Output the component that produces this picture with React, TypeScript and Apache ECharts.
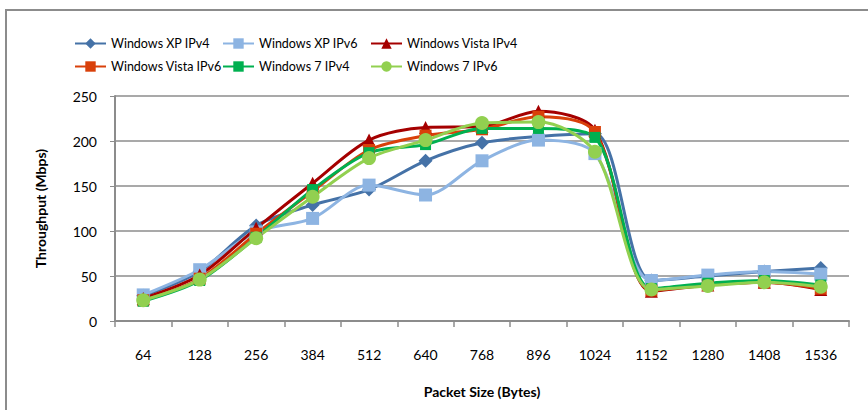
import React, { useEffect, useRef } from "react";
import * as echarts from "echarts";

const categories = ["64", "128", "256", "384", "512", "640", "768", "896", "1024", "1152", "1280", "1408", "1536"];
const xpIPv4 = [28, 55, 106, 129, 146, 178, 198, 205, 208, 45, 50, 55, 59];
const xpIPv6 = [29, 57, 99, 114, 151, 140, 178, 201, 186, 45, 51, 55, 52];
const vistaIPv4 = [25, 51, 103, 153, 201, 215, 216, 233, 212, 33, 40, 43, 35];
const vistaIPv6 = [23, 47, 97, 144, 190, 206, 213, 227, 210, 34, 40, 43, 36];
const win7IPv4 = [22, 45, 93, 146, 187, 196, 214, 214, 204, 36, 42, 45, 40];
const win7IPv6 = [23, 46, 92, 138, 181, 201, 220, 221, 188, 35, 39, 43, 38];
const yTicks = { min: 0, max: 250, interval: 50 };

const FONT = "Lato";

export default function App() {
  const ref = useRef<HTMLDivElement>(null);
  useEffect(() => {
    document.body.style.margin = "0";
    const chart = echarts.init(ref.current!, undefined, { renderer: "svg" });
    const mk = (name: string, data: number[], color: string, symbol: string, size: number) => ({
      name,
      type: "line",
      data,
      smooth: 0.3,
      symbol,
      symbolSize: size,
      color,
      lineStyle: { width: 3, color },
      itemStyle: { color },
    });
    const legendPos = [
      ["Windows XP IPv4", 74, 37],
      ["Windows XP IPv6", 222, 37],
      ["Windows Vista IPv4", 370, 37],
      ["Windows Vista IPv6", 74, 60],
      ["Windows 7 IPv4", 222, 60],
      ["Windows 7 IPv6", 370, 60],
    ] as const;
    chart.setOption({
      animation: false,
      textStyle: { fontFamily: FONT },
      graphic: [
        {
          type: "rect",
          shape: { x: 6, y: 10, width: 900, height: 450 },
          style: { fill: "none", stroke: "#8c8c8c", lineWidth: 2 },
          silent: true,
        },
      ],
      legend: legendPos.map(([n, x, y]) => ({
        data: [n],
        left: x,
        top: y,
        padding: 0,
        itemWidth: 31,
        itemHeight: 13,
        itemGap: 4,
        textStyle: { fontFamily: FONT, fontSize: 12.5, color: "#000" },
      })),
      grid: { left: 115, right: 19, top: 96, bottom: 89, containLabel: false },
      xAxis: {
        type: "category",
        data: categories,
        boundaryGap: true,
        name: "Packet Size (Bytes)",
        nameLocation: "middle",
        nameGap: 63,
        nameTextStyle: { fontFamily: FONT, fontSize: 14, fontWeight: "bold", color: "#000" },
        axisLine: { lineStyle: { color: "#8c8c8c", width: 2 } },
        axisTick: { show: true, length: 6, lineStyle: { color: "#8c8c8c", width: 1.5 } },
        axisLabel: { margin: 26, fontSize: 14, color: "#000", fontFamily: FONT },
      },
      yAxis: {
        type: "value",
        min: yTicks.min,
        max: yTicks.max,
        interval: yTicks.interval,
        name: "Throughput (Mbps)",
        nameLocation: "middle",
        nameGap: 68,
        nameTextStyle: { fontFamily: FONT, fontSize: 14, fontWeight: "bold", color: "#000" },
        axisLine: { show: true, lineStyle: { color: "#8c8c8c", width: 2 } },
        axisTick: { show: true, length: 5, lineStyle: { color: "#8c8c8c" } },
        axisLabel: { margin: 18, fontSize: 14, color: "#000", fontFamily: FONT },
        splitLine: { lineStyle: { color: "#8c8c8c", width: 1.5 } },
      },
      series: [
        mk("Windows XP IPv4", xpIPv4, "#4572A7", "diamond", 14),
        mk("Windows XP IPv6", xpIPv6, "#8DB4E2", "rect", 13),
        mk("Windows Vista IPv4", vistaIPv4, "#A50000", "triangle", 13),
        mk("Windows Vista IPv6", vistaIPv6, "#D9400A", "rect", 12),
        mk("Windows 7 IPv4", win7IPv4, "#00B050", "rect", 11),
        mk("Windows 7 IPv6", win7IPv6, "#92D050", "circle", 14),
      ],
    });
    return () => chart.dispose();
  }, []);
  return <div ref={ref} style={{ width: 868, height: 410 }} />;
}
